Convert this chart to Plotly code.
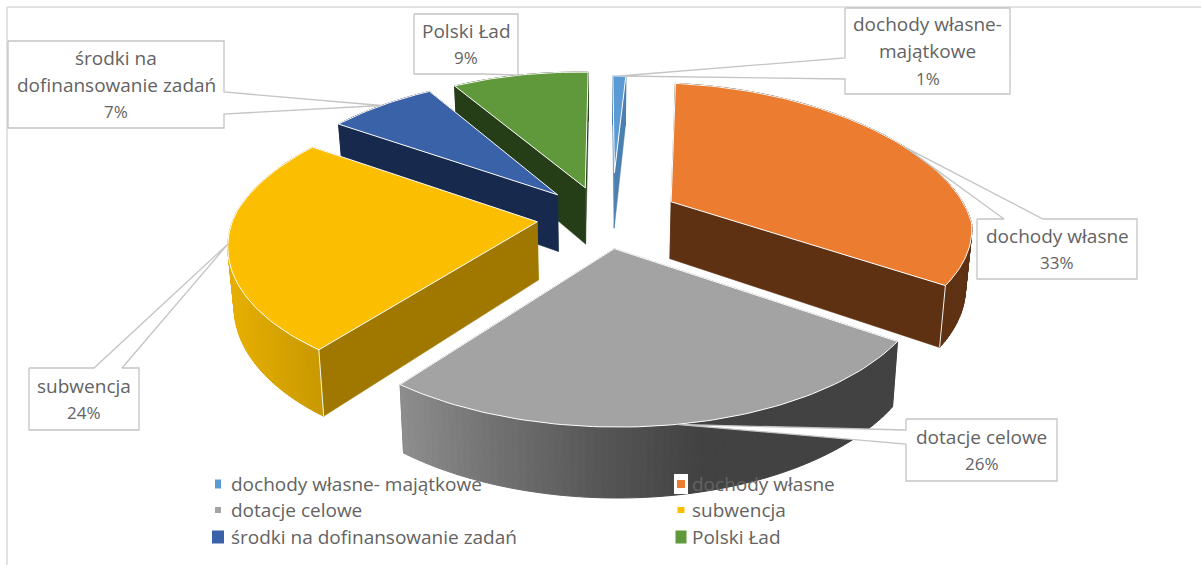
import math
import plotly.graph_objects as go

categories = ["dochody własne- majątkowe", "dochody własne", "dotacje celowe",
              "subwencja", "środki na dofinansowanie zadań", "Polski Ład"]
values = [1, 33, 26, 24, 7, 9]
explode = [0.33, 0.26, 0.22, 0.22, 0.22, 0.22]
radius = [0.85, 1, 1, 1, 1, 1]
side_shift = [0.03, 0, 0, 0, 0, 0]
top_colors = ["#5B9BD5", "#EB7C30", "#A3A3A3", "#FBBE00", "#3A62A8", "#5F993B"]
face_colors = ["#4A7FB0", "#5E3113", "#424242", "#A07800", "#172A4D", "#263E18"]
rim_stops = [
    [(0, "#4A7FB0"), (1201, "#4A7FB0")],
    [(0, "#5E3113"), (1201, "#5E3113")],
    [(398, "#8E8E8E"), (500, "#707070"), (600, "#565656"), (700, "#424242"), (1201, "#424242")],
    [(232, "#E5AE00"), (320, "#C89800"), (1201, "#C89800")],
    [(0, "#172A4D"), (1201, "#172A4D")],
    [(0, "#263E18"), (1201, "#263E18")],
]

# callout boxes: x0, y0, x1, y1, leader side, leader start, leader end, text lines
callouts = [
    (845, 8, 1010, 94, "left", 58, 79, ["dochody własne-", "majątkowe", "1%"]),
    (977, 219, 1137, 279, "top", 1004, 1043, ["dochody własne", "33%"]),
    (906, 419, 1057, 481, "left", 430, 444, ["dotacje celowe", "26%"]),
    (29, 368, 139, 430, "top", 94, 122, ["subwencja", "24%"]),
    (8, 41, 224, 128, "right", 92, 114, ["środki na", "dofinansowanie zadań", "7%"]),
    (414, 14, 518, 74, "bottom", 482, 518, ["Polski Ład", "9%"]),
]
legend_pos = [(218, 484, 6, 9), (681, 484, 8, 8), (218, 510, 6, 6),
              (681, 510, 7, 6), (218, 537, 12, 13), (681, 537, 11, 13)]

CX, VC, A, B, P, PX_BACK, DEPTH, SHRINK = 603, 217, 301, 141, 0.15, 0.2, 58, 0.983
SHEAR_X, SHEAR_Y = -7, 5
FONT = "Open Sans"
TEXT = "#636363"
EDGE = "#C4C4C4"


def project(x, y):
    s = 1 / (1 - P * y)
    if y < 0:
        u = CX + A * x / (1 - PX_BACK * y)
    else:
        u = CX + (A * x + SHEAR_X * y) * s
    return u, VC + (B * y + SHEAR_Y * x) * s, s


def lower(x, y):
    u, v, s = project(x, y)
    return CX + (u - CX) * SHRINK, v + DEPTH * s


def hex2rgb(c):
    return tuple(int(c[i:i + 2], 16) for i in (1, 3, 5))


def grad(stops, u):
    if u <= stops[0][0]:
        return stops[0][1]
    for (a, ca), (b, cb) in zip(stops, stops[1:]):
        if u <= b:
            t = (u - a) / (b - a)
            ra, rb = hex2rgb(ca), hex2rgb(cb)
            return "#%02X%02X%02X" % tuple(round(p + (q - p) * t) for p, q in zip(ra, rb))
    return stops[-1][1]


fig = go.Figure()


def poly(xs, ys, fill, line=None, width=1):
    fig.add_trace(go.Scatter(x=xs, y=ys, mode="lines", fill="toself", fillcolor=fill,
                             line=dict(color=line or fill, width=width),
                             hoverinfo="skip", showlegend=False))


def seg(xs, ys, color, width):
    fig.add_trace(go.Scatter(x=xs, y=ys, mode="lines", line=dict(color=color, width=width),
                             hoverinfo="skip", showlegend=False))


total = sum(values)
starts, acc = [], 0
for v in values:
    starts.append(acc)
    acc += v

geo = []
for i, v in enumerate(values):
    t0 = starts[i] / total * 2 * math.pi
    t1 = (starts[i] + v) / total * 2 * math.pi
    tm = (t0 + t1) / 2
    ax = explode[i] * math.sin(tm) + side_shift[i]
    ay = -explode[i] * math.cos(tm)
    geo.append((t0, t1, tm, ax, ay))

# back to front painting order
for i in [0, 5, 4, 3, 2, 1]:
    t0, t1, tm, ax, ay = geo[i]
    r = radius[i]
    n = max(2, int(values[i] * 3))
    pts = [(ax + r * math.sin(t0 + (t1 - t0) * k / n), ay - r * math.cos(t0 + (t1 - t0) * k / n))
           for k in range(n + 1)]
    apex = (ax, ay)
    # radial faces
    for e in (pts[0], pts[-1]):
        ua, va, _ = project(*apex)
        ue, ve, _ = project(*e)
        la, lb = lower(*apex)
        me, ne = lower(*e)
        poly([ua, ue, me, la, ua], [va, ve, ne, lb, va], face_colors[i], width=0.5)
    # rim wall
    for (p, q) in zip(pts, pts[1:]):
        u0, v0, _ = project(*p)
        u1, v1, _ = project(*q)
        a0, b0 = lower(*p)
        a1, b1 = lower(*q)
        poly([u0, u1, a1, a0, u0], [v0, v1, b1, b0, v0],
             grad(rim_stops[i], (u0 + u1) / 2), width=1)
    # top
    proj = [project(*p) for p in [apex] + pts + [apex]]
    poly([p[0] for p in proj], [p[1] for p in proj], top_colors[i], line="#FFFFFF", width=1)
    # corner highlights
    for e in (pts[0], pts[-1]):
        ue, ve, _ = project(*e)
        me, ne = lower(*e)
        if ve > 230 and i != 2:
            seg([ue, me], [ve, ne], "#F2F2F2", 1)

# frame of the chart area
seg([7, 7], [7, 565], "#D9D9D9", 1.5)
seg([7, 1201], [7, 7], "#D9D9D9", 1.5)

annotations = []


def label(x, y, text, anchor="center"):
    size = 17 if text.endswith("%") else 19
    annotations.append(dict(x=x, y=y, xref="x", yref="y", text=text, showarrow=False,
                            xanchor=anchor, yanchor="middle",
                            font=dict(family=FONT, size=size, color=TEXT)))


for i, (x0, y0, x1, y1, side, a, b, lines) in enumerate(callouts):
    t0, t1, tm, ax, ay = geo[i]
    tu, tv, _ = project(ax + radius[i] * math.sin(tm), ay - radius[i] * math.cos(tm))
    if side == "top":
        px = [x0, a, tu, b, x1, x1, x0, x0]
        py = [y0, y0, tv, y0, y0, y1, y1, y0]
    elif side == "bottom":
        px = [x0, x1, x1, b, tu, a, x0, x0]
        py = [y0, y0, y1, y1, tv, y1, y1, y0]
    elif side == "left":
        px = [x0, x1, x1, x0, x0, tu, x0, x0]
        py = [y0, y0, y1, y1, b, tv, a, y0]
    else:
        px = [x0, x1, x1, tu, x1, x1, x0, x0]
        py = [y0, y0, a, tv, b, y1, y1, y0]
    poly(px, py, "#FFFFFF", line=EDGE, width=1.3)
    yc = (y0 + y1) / 2
    for k, t in enumerate(lines):
        label((x0 + x1) / 2, yc + (k - (len(lines) - 1) / 2) * 27, t)

# legend
for i, name in enumerate(categories):
    x, y, w, h = legend_pos[i]
    if i == 1:
        fig.add_shape(type="rect", x0=x - 7, x1=x + 7, y0=y - 10, y1=y + 10,
                      fillcolor="#FFFFFF", line_width=0, layer="above")
    fig.add_shape(type="rect", x0=x - w / 2, x1=x + w / 2, y0=y - h / 2, y1=y + h / 2,
                  fillcolor=top_colors[i], line_width=0, layer="above")
    label(x + 11 if i % 2 == 0 else x + 9, y, name, anchor="left")

fig.update_layout(
    width=1201, height=565, margin=dict(l=0, r=0, t=0, b=0),
    paper_bgcolor="#FFFFFF", plot_bgcolor="#FFFFFF", showlegend=False,
    xaxis=dict(range=[0, 1201], visible=False, fixedrange=True),
    yaxis=dict(range=[565, 0], visible=False, fixedrange=True),
    annotations=annotations,
)
fig.write_html("out.html", config=dict(displayModeBar=False),
               post_script="document.body.style.margin='0';document.documentElement.style.overflow='hidden';")
